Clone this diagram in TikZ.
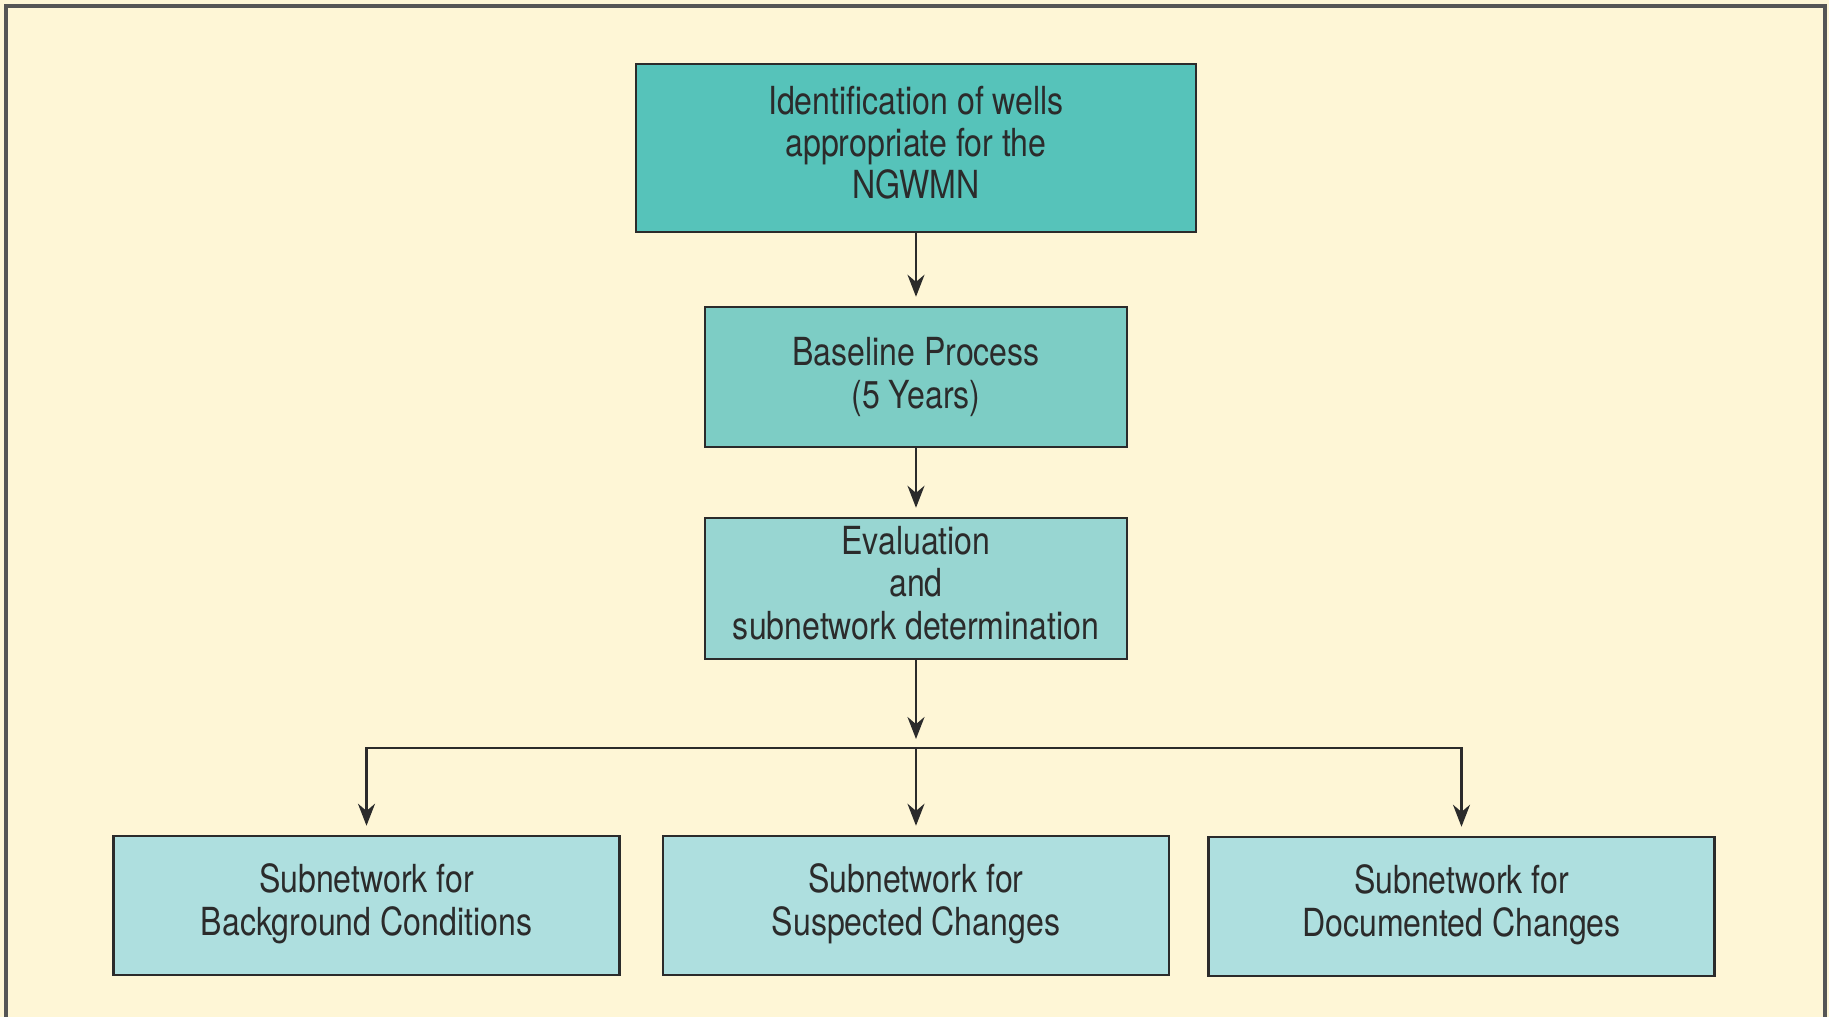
\documentclass[tikz,border=0pt]{standalone}
\usepackage{fontspec}
\setmainfont[FakeStretch=0.83]{TeX Gyre Heros}
\usetikzlibrary{positioning, arrows.meta}
\definecolor{bgyellow}{HTML}{FEF6D6}
\definecolor{tealone}{HTML}{56C3BA}
\definecolor{tealtwo}{HTML}{7DCDC5}
\definecolor{tealthree}{HTML}{98D6D2}
\definecolor{tealfour}{HTML}{AEDFDF}
\definecolor{inkgray}{HTML}{2B2B2B}
\newcommand{\twolines}[2]{\raisebox{1.2mm}{\begin{tabular}{@{}c@{}}#1\\#2\end{tabular}}}
\tikzset{
	boxnode/.style={
			shape=rectangle,
			draw=inkgray,
			line width=0.7pt,
			align=center,
			text=inkgray,
			font=\fontsize{11}{12}\selectfont,
			inner sep=0pt
		},
	topnode/.style={
			boxnode,
			fill=tealone,
			minimum width=5.6cm,
			minimum height=1.68cm
		},
	midnode/.style={
			boxnode,
			fill=tealtwo,
			minimum width=4.22cm,
			minimum height=1.4cm
		},
	evalnode/.style={
			boxnode,
			fill=tealthree,
			minimum width=4.22cm,
			minimum height=1.41cm
		},
	subnode/.style={
			boxnode,
			fill=tealfour,
			minimum width=5.06cm,
			minimum height=1.39cm
		},
	flowarrow/.style={
			draw=inkgray,
			line width=0.7pt,
			-{Stealth[length=2.2mm, width=1.7mm]},
			shorten >=0.9mm
		}
}

\begin{document}
\begin{tikzpicture}

  \useasboundingbox (0,0) rectangle (18.29,-10.17);
  \fill[bgyellow] (0,0) rectangle (18.29,-10.17);
  \draw[inkgray!80, line width=0.9pt] (0.06,-10.3) -- (0.06,-0.06) -- (18.25,-0.06) -- (18.25,-10.3);

  \node[topnode] (wells) at (9.16,-1.48) {\raisebox{0.35mm}{\begin{tabular}{@{}c@{}}Identification of wells\\appropriate for the\\NGWMN\end{tabular}}};
  \node[midnode] (base) at (9.16,-3.77) {Baseline Process\\(5 Years)};
  \node[evalnode] (eval) at (9.16,-5.885) {\raisebox{0.35mm}{\begin{tabular}{@{}c@{}}Evaluation\\and\\subnetwork determination\end{tabular}}};

  \node[subnode] (bg) at (3.665,-9.055) {\twolines{Subnetwork for}{Background Conditions}};
  \node[subnode] (susp) at (9.16,-9.055) {\twolines{Subnetwork for}{Suspected Changes}};
  \node[subnode] (doc) at (14.615,-9.065) {\raisebox{0.3mm}{\twolines{Subnetwork for}{Documented Changes}}};

  \coordinate (split) at (9.16,-7.48);

  \draw[flowarrow] (wells) -- (base);
  \draw[flowarrow] (base) -- (eval);
  \draw[flowarrow] (eval) -- (split);
  \draw[flowarrow] (split) -| (bg);
  \draw[flowarrow] (split) -- (susp);
  \draw[flowarrow] (split) -| (doc);

\end{tikzpicture}
\end{document}
